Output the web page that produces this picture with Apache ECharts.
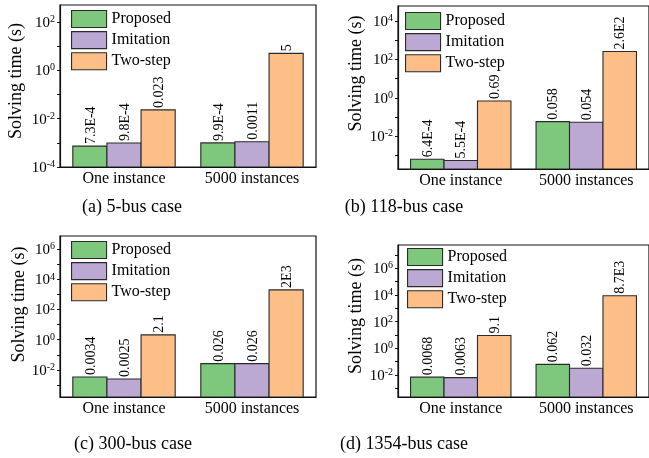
<!DOCTYPE html>
<html>
<head>
<meta charset="utf-8">
<script src="https://cdn.jsdelivr.net/npm/echarts@6/dist/echarts.min.js"></script>
<style>html,body{margin:0;padding:0;background:#fff}#c{width:649px;height:458px}</style>
</head>
<body>
<div id="c"></div>
<script>
// ---------------- data ----------------
const categories = ['One instance', '5000 instances'];
const methods = ['Proposed', 'Imitation', 'Two-step'];
const captions = ['(a) 5-bus case', '(b) 118-bus case', '(c) 300-bus case', '(d) 1354-bus case'];
const axisTitle = 'Solving time (s)';

// (a) 5-bus
const proposed5 = [7.3e-4, 9.9e-4];
const imitation5 = [9.8e-4, 0.0011];
const twoStep5 = [0.023, 5];
const proposed5Text = ['7.3E-4', '9.9E-4'];
const imitation5Text = ['9.8E-4', '0.0011'];
const twoStep5Text = ['0.023', '5'];
const yRange5 = [1e-4, 500];
const yTickExp5 = [-4, -3, -2, -1, 0, 1, 2];
const yLabelExp5 = [-4, -2, 0, 2];

// (b) 118-bus
const proposed118 = [6.4e-4, 0.058];
const imitation118 = [5.5e-4, 0.054];
const twoStep118 = [0.69, 260];
const proposed118Text = ['6.4E-4', '0.058'];
const imitation118Text = ['5.5E-4', '0.054'];
const twoStep118Text = ['0.69', '2.6E2'];
const yRange118 = [2e-4, 6e4];
const yTickExp118 = [-3, -2, -1, 0, 1, 2, 3, 4];
const yLabelExp118 = [-2, 0, 2, 4];

// (c) 300-bus
const proposed300 = [0.0034, 0.026];
const imitation300 = [0.0025, 0.026];
const twoStep300 = [2.1, 2000];
const proposed300Text = ['0.0034', '0.026'];
const imitation300Text = ['0.0025', '0.026'];
const twoStep300Text = ['2.1', '2E3'];
const yRange300 = [1.6e-4, 7.5e6];
const yTickExp300 = [-3, -2, -1, 0, 1, 2, 3, 4, 5, 6];
const yLabelExp300 = [-2, 0, 2, 4, 6];

// (d) 1354-bus
const proposed1354 = [0.0068, 0.062];
const imitation1354 = [0.0063, 0.032];
const twoStep1354 = [9.1, 8700];
const proposed1354Text = ['0.0068', '0.062'];
const imitation1354Text = ['0.0063', '0.032'];
const twoStep1354Text = ['9.1', '8.7E3'];
const yRange1354 = [2.2e-4, 5.6e7];
const yTickExp1354 = [-3, -2, -1, 0, 1, 2, 3, 4, 5, 6, 7];
const yLabelExp1354 = [-2, 0, 2, 4, 6];

// ---------------- style / layout ----------------
const FONT = '"Liberation Serif", "Times New Roman", serif';
const colors = ['#7ec87e', '#bba9d3', '#fdbf87'];
const panels = [
  { vals: [proposed5, imitation5, twoStep5], texts: [proposed5Text, imitation5Text, twoStep5Text], range: yRange5, ticks: yTickExp5, labels: yLabelExp5,
    grid: { left: 60, top: 5, width: 256, height: 162 }, legend: { left: 71, top: 10 }, nameGap: 35, nameShift: 5, cap: [132, 207] },
  { vals: [proposed118, imitation118, twoStep118], texts: [proposed118Text, imitation118Text, twoStep118Text], range: yRange118, ticks: yTickExp118, labels: yLabelExp118,
    grid: { left: 398, top: 6, width: 256, height: 163 }, legend: { left: 405, top: 12 }, nameGap: 33, nameShift: 14, cap: [404, 207] },
  { vals: [proposed300, imitation300, twoStep300], texts: [proposed300Text, imitation300Text, twoStep300Text], range: yRange300, ticks: yTickExp300, labels: yLabelExp300,
    grid: { left: 60, top: 236, width: 256, height: 161 }, legend: { left: 71, top: 241 }, nameGap: 31, nameShift: 12, cap: [133, 444] },
  { vals: [proposed1354, imitation1354, twoStep1354], texts: [proposed1354Text, imitation1354Text, twoStep1354Text], range: yRange1354, ticks: yTickExp1354, labels: yLabelExp1354,
    grid: { left: 398, top: 245, width: 256, height: 152 }, legend: { left: 407, top: 248 }, nameGap: 33, nameShift: 5, cap: [404, 444] }
];

function makeRender(k, texts) {
  return function (params, api) {
    const cat = api.value(0);
    const val = api.value(1);
    const cs = params.coordSys;
    const band = cs.width / categories.length;
    const bw = band * 0.8 / methods.length;
    const top = api.coord([cat, val]);
    const bottom = cs.y + cs.height;
    const x0 = top[0] + (k - methods.length / 2) * bw;
    return {
      type: 'group',
      children: [
        { type: 'rect', shape: { x: x0, y: top[1], width: bw, height: bottom - top[1] },
          style: { fill: colors[k], stroke: '#2a2a2a', lineWidth: 1.1 } },
        { type: 'text', x: x0 + bw / 2 + 1, y: top[1] - 2, rotation: Math.PI / 2,
          style: { text: texts[params.dataIndex], fontSize: 14, fontFamily: FONT, fill: '#000', align: 'left', verticalAlign: 'middle' } }
      ]
    };
  };
}

const grid = [], xAxis = [], yAxis = [], series = [], legend = [], graphic = [];
panels.forEach((p, i) => {
  grid.push(Object.assign({ show: true, borderColor: '#111', borderWidth: 1.2, backgroundColor: 'transparent' }, p.grid));
  xAxis.push({
    type: 'category', gridIndex: i, data: categories, boundaryGap: true, position: 'bottom',
    axisLine: { onZero: false, lineStyle: { color: '#111', width: 1.2 } },
    axisTick: { show: true, alignWithLabel: true, inside: true, length: 3, lineStyle: { color: '#111' } },
    axisLabel: { interval: 0, hideOverlap: false, color: '#000', fontSize: 16, fontFamily: FONT, margin: 4 },
    splitLine: { show: false }
  });
  // log axis that carries the bars
  yAxis.push({ type: 'log', logBase: 10, gridIndex: i, position: 'left', min: p.range[0], max: p.range[1], show: false });
  // visible decade axis (exponent of the same log scale) for ticks / labels
  yAxis.push({
    type: 'value', gridIndex: i, position: 'left', offset: 0, min: Math.log10(p.range[0]), max: Math.log10(p.range[1]),
    name: axisTitle, nameLocation: 'middle', nameGap: p.nameGap,
    nameTextStyle: { fontFamily: FONT, fontSize: 18, color: '#000', padding: [0, 0, 0, p.nameShift * 2] },
    axisLine: { show: true, onZero: false, lineStyle: { color: '#111', width: 1.2 } },
    axisTick: { show: true, inside: false, length: 3, customValues: p.ticks, lineStyle: { color: '#111' } },
    axisLabel: {
      customValues: p.labels, margin: 5,
      formatter: v => '{b|10}{s|' + Math.round(v) + '}',
      rich: {
        b: { fontSize: 15, fontFamily: FONT, color: '#000', lineHeight: 15, padding: [2, 0, 0, 0] },
        s: { fontSize: 10, fontFamily: FONT, color: '#000', lineHeight: 10, verticalAlign: 'top' }
      }
    },
    splitLine: { show: false }
  });
  methods.forEach((m, k) => {
    series.push({
      type: 'custom', name: m, xAxisIndex: i, yAxisIndex: 2 * i,
      itemStyle: { color: colors[k] },
      clip: true,
      renderItem: makeRender(k, p.texts[k]),
      data: categories.map((c, j) => [j, p.vals[k][j]])
    });
  });
  legend.push({
    orient: 'vertical', left: p.legend.left, top: p.legend.top, padding: 0,
    itemWidth: 35, itemHeight: 17, itemGap: 3, icon: 'rect', selectedMode: false,
    data: methods,
    itemStyle: { borderColor: '#2a2a2a', borderWidth: 1.1 },
    textStyle: { fontFamily: FONT, fontSize: 16, color: '#000' }
  });
  graphic.push({
    type: 'text', x: p.cap[0], y: p.cap[1],
    style: { text: captions[i], fontFamily: FONT, fontSize: 18, fill: '#000', align: 'center', verticalAlign: 'middle', textAlign: 'center', textVerticalAlign: 'middle' }
  });
});

const chart = echarts.init(document.getElementById('c'), null, { renderer: 'canvas' });
chart.setOption({
  animation: false,
  backgroundColor: '#fff',
  grid, xAxis, yAxis, series, legend, graphic
});
</script>
</body>
</html>
